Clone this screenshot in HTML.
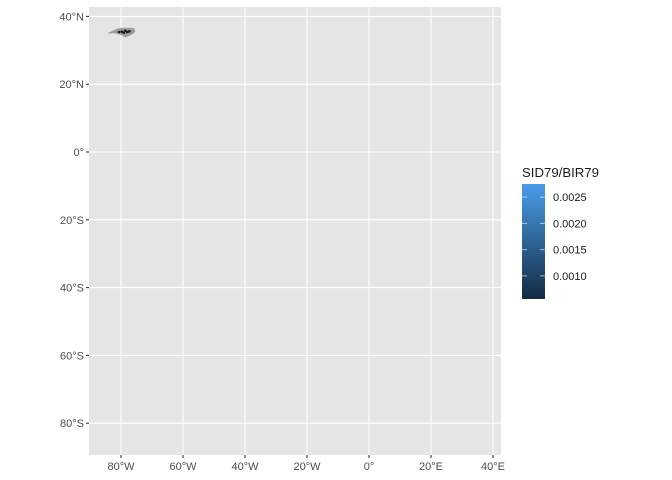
<!DOCTYPE html>
<html><head><meta charset="utf-8"><style>
body{margin:0;background:#fff;}
svg{display:block;font-family:"Liberation Sans",sans-serif;}
</style></head><body>
<svg id="chart" width="672" height="480" viewBox="0 0 672 480" xmlns="http://www.w3.org/2000/svg">
<defs><linearGradient id="cb" x1="0" y1="1" x2="0" y2="0">
<stop offset="0" stop-color="#132B43"/><stop offset="1" stop-color="#4A9DEA"/></linearGradient></defs>
</svg>
<script>
const lonTicks=[-80,-60,-40,-20,0,20,40];
const lonLabels=["80°W","60°W","40°W","20°W","0°","20°E","40°E"];
const latTicks=[40,20,0,-20,-40,-60,-80];
const latLabels=["40°N","20°N","0°","20°S","40°S","60°S","80°S"];
const legendValues=[0.0010,0.0015,0.0020,0.0025];
const legendLabels=["0.0010","0.0015","0.0020","0.0025"];
const legendMin=0.00056, legendMax=0.00275;
// simplified North Carolina outline [lon,lat]
const ncLon=[-84.3,-83.1,-81.6,-80.0,-78.5,-77.0,-75.8,-75.5,-75.9,-76.6,-77.7,-78.6,-79.6,-80.9,-82.3,-83.3,-84.3];
const ncLat=[35.0,35.5,36.2,36.55,36.55,36.55,36.5,35.6,35.0,34.7,34.2,33.9,34.4,34.85,35.1,35.0,35.0];
const dotLon=[-80.6,-79.7,-79.1,-78.6,-78.0,-77.3];
const dotLat=[35.4,35.5,35.2,35.8,35.4,35.6];

const svg=document.getElementById('chart');
const NS="http://www.w3.org/2000/svg";
const px0=89,px1=501,py0=7,py1=455;
const xs=lon=>369+lon*3.1;
const ys=lat=>152-lat*3.39;
function mk(t,a,p){const e=document.createElementNS(NS,t);for(const k in a)e.setAttribute(k,a[k]);(p||svg).appendChild(e);return e;}

const panel=mk('rect',{x:px0,y:py0,width:px1-px0,height:py1-py0,fill:'#E5E5E5'});



lonTicks.forEach((v,i)=>{
  const x=xs(v);
  const g=mk('line',{x1:x,x2:x,y1:py0,y2:py1,stroke:'#fff','stroke-width':1.1});
  
  
  mk('line',{x1:x,x2:x,y1:py1,y2:py1+3,stroke:'#333','stroke-width':1.1});
  const t=mk('text',{x:x,y:py1+15,'text-anchor':'middle','font-size':11,fill:'#4D4D4D'});
  t.textContent=lonLabels[i];
  
  
});
latTicks.forEach((v,i)=>{
  const y=ys(v);
  const g=mk('line',{x1:px0,x2:px1,y1:y,y2:y,stroke:'#fff','stroke-width':1.1});
  
  
  mk('line',{x1:px0-3,x2:px0,y1:y,y2:y,stroke:'#333','stroke-width':1.1});
  const t=mk('text',{x:px0-5,y:y+4,'text-anchor':'end','font-size':11,fill:'#4D4D4D'});
  t.textContent=latLabels[i];
  
  
});

const pts=ncLon.map((l,i)=>xs(l).toFixed(1)+','+ys(ncLat[i]).toFixed(1)).join(' ');
const nc=mk('polygon',{points:pts,fill:'#9A9A9A',stroke:'#AAAAAA','stroke-width':0.6});


dotLon.forEach((l,i)=>{
  const d=mk('circle',{cx:xs(l),cy:ys(dotLat[i]),r:1.3,fill:'#1a1a1a'});
  
  
});

// legend
const lt=mk('text',{x:522,y:177,'font-size':13.2,fill:'#1a1a1a'});
lt.textContent='SID79/BIR79';


const cbTop=184,cbBot=299;
const cb=mk('rect',{x:522,y:cbTop,width:23,height:cbBot-cbTop,fill:'url(#cb)'});


const ly=v=>cbBot-(v-legendMin)/(legendMax-legendMin)*(cbBot-cbTop);
legendValues.forEach((v,i)=>{
  const y=ly(v);
  mk('line',{x1:522,x2:527,y1:y,y2:y,stroke:'#fff','stroke-opacity':0.6});
  mk('line',{x1:540,x2:545,y1:y,y2:y,stroke:'#fff','stroke-opacity':0.6});
  const t=mk('text',{x:553,y:y+4,'font-size':11,fill:'#1a1a1a'});
  t.textContent=legendLabels[i];
  
  
});
</script>
</body></html>
